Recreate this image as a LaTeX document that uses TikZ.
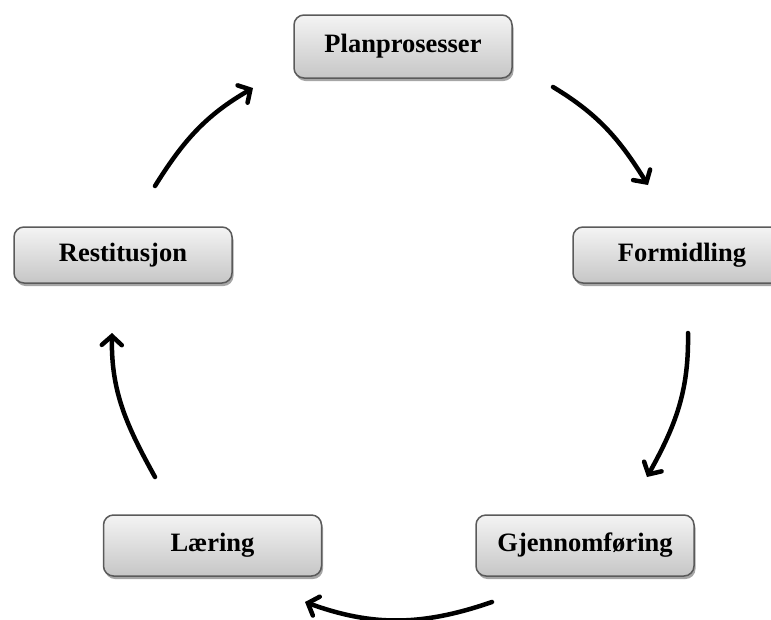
\documentclass[tikz,border=0pt]{standalone}
\usepackage{fontspec}
\setmainfont{Liberation Serif}
\usetikzlibrary{arrows.meta,shadows}
\definecolor{boxedge}{HTML}{5A5A5A}
\definecolor{boxtop}{HTML}{F4F4F4}
\definecolor{boxbottom}{HTML}{C6C6C6}
\tikzset{
  stage/.style={
    draw=boxedge, line width=1.5pt, rounded corners=10pt,
    top color=boxtop, bottom color=boxbottom,
    minimum width=218pt, inner sep=0pt,
    font=\fontsize{26.5}{30}\selectfont\bfseries,
    drop shadow={shadow xshift=1.5pt, shadow yshift=-3pt, opacity=0.35, fill=black}
  },
  flow/.style={
    line width=4.5pt, line cap=round,
    -{Straight Barb[length=9pt,width=20pt,line cap=round]}
  }
}
\begin{document}
\begin{tikzpicture}[x=1pt,y=1pt]
  \useasboundingbox (0,0) rectangle (771,-619);

  % stages of the cycle
  \node[stage, minimum height=63pt] (plan) at (403,-46.5) {Planprosesser};
  \node[stage, minimum height=56pt] (form) at (682,-255)  {Formidling};
  \node[stage, minimum height=61pt] (gjen) at (585,-545.5) {Gjennomføring};
  \node[stage, minimum height=61pt] (laer) at (212.5,-545.5) {Læring};
  \node[stage, minimum height=56pt] (rest) at (123,-255)  {Restitusjon};

  % free ends of the curved arrows
  \coordinate (a1s) at (553,-87);  \coordinate (a1e) at (648,-185);
  \coordinate (a2s) at (688,-333); \coordinate (a2e) at (647,-477);
  \coordinate (a3s) at (492,-602); \coordinate (a3e) at (305,-602);
  \coordinate (a4s) at (155,-477); \coordinate (a4e) at (112,-333);
  \coordinate (a5s) at (155,-186); \coordinate (a5e) at (253,-88);

  \draw[flow] (a1s) to[out=-31,in=122] (a1e);
  \draw[flow] (a2s) to[out=-89,in=61] (a2e);
  \draw[flow] (a3s) to[out=-161,in=-20] (a3e);
  \draw[flow] (a4s) to[out=119,in=-91] (a4e);
  \draw[flow] (a5s) to[out=58,in=210] (a5e);
\end{tikzpicture}
\end{document}
